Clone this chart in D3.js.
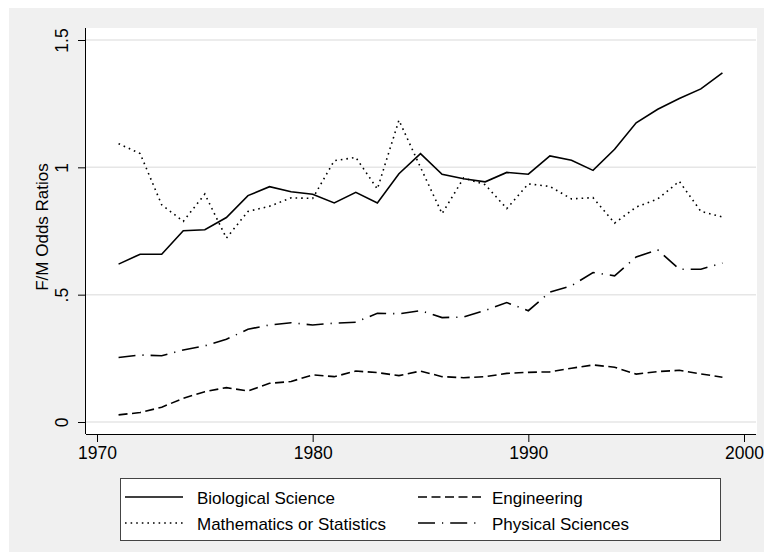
<!DOCTYPE html>
<html>
<head>
<meta charset="utf-8">
<script src="https://cdn.jsdelivr.net/npm/d3@7"></script>
<style>
  body { margin: 0; background: #fff; }
  text { font-family: "Liberation Sans", Arial, Helvetica, sans-serif; fill: #000; }
</style>
</head>
<body>
<script>
const width = 764
const height = 560

// data
const years = d3.range(1971, 2000);
const biological = [0.620, 0.659, 0.659, 0.751, 0.755, 0.803, 0.889, 0.924, 0.904, 0.894,
    0.860, 0.902, 0.860, 0.975, 1.054, 0.973, 0.955, 0.943, 0.980, 0.973,
    1.045, 1.028, 0.988, 1.071, 1.175, 1.228, 1.270, 1.308, 1.371];
const engineering = [0.028, 0.037, 0.058, 0.093, 0.119, 0.135, 0.122, 0.152, 0.159, 0.185,
    0.178, 0.200, 0.194, 0.182, 0.200, 0.178, 0.174, 0.178, 0.191, 0.195,
    0.197, 0.211, 0.224, 0.215, 0.188, 0.198, 0.203, 0.189, 0.176];
const maths = [1.093, 1.054, 0.853, 0.788, 0.895, 0.722, 0.827, 0.847, 0.880, 0.878,
    1.026, 1.039, 0.915, 1.185, 1.000, 0.818, 0.958, 0.932, 0.838, 0.935,
    0.925, 0.876, 0.881, 0.781, 0.844, 0.876, 0.945, 0.827, 0.805];
const physical = [0.253, 0.263, 0.260, 0.283, 0.299, 0.325, 0.364, 0.381, 0.390, 0.381,
    0.388, 0.392, 0.427, 0.425, 0.437, 0.410, 0.412, 0.438, 0.469, 0.437,
    0.510, 0.535, 0.587, 0.574, 0.648, 0.676, 0.600, 0.600, 0.624];

const xTicks = [1970, 1980, 1990, 2000];
const yTicks = [0, 0.5, 1, 1.5];
const yTickLabels = ["0", ".5", "1", "1.5"];

const series = [
    {name: "Biological Science", values: biological, dash: null},
    {name: "Engineering", values: engineering, dash: "9,4.5"},
    {name: "Mathematics or Statistics", values: maths, dash: "1.6,4"},
    {name: "Physical Sciences", values: physical, dash: "17,7,1.2,7"}
];

const svg = d3.select("body").append("svg")
    .attr("width", width)
    .attr("height", height);

// outer gray background + white plot region
svg.append("rect").attr("x", 9).attr("y", 8).attr("width", width - 9).attr("height", 544)
    .attr("fill", "#f0f0f0");
svg.append("rect").attr("x", 86).attr("y", 28).attr("width", 671).attr("height", 406)
    .attr("fill", "#fff");

const x = d3.scaleLinear().domain([1970, 2000]).range([97, 744]);
const y = d3.scaleLinear().domain([0, 1.5]).range([422, 40]);

// gridlines
svg.append("g").selectAll("line")
    .data(yTicks)
    .enter().append("line")
    .attr("x1", 86).attr("x2", 756)
    .attr("y1", d => y(d)).attr("y2", d => y(d))
    .attr("stroke", "#e6e6e6")
    .attr("stroke-width", 1.5);

// axes
const xAxis = svg.append("g")
    .attr("transform", "translate(0,434)")
    .call(d3.axisBottom(x).tickValues(xTicks).tickFormat(d3.format("d"))
        .tickSize(8).tickPadding(5).tickSizeOuter(0));
xAxis.select(".domain").attr("d", "M86,0.5H756").attr("stroke", "#000");
xAxis.selectAll("text").style("font-size", "17.5px").attr("fill", "#000");
xAxis.selectAll("line").attr("stroke", "#000");

const yAxis = svg.append("g")
    .attr("transform", "translate(86,0)")
    .call(d3.axisLeft(y).tickValues(yTicks).tickSize(8).tickSizeOuter(0)
        .tickFormat((d, i) => yTickLabels[i]));
yAxis.select(".domain").attr("d", "M-0.5,28V434").attr("stroke", "#000");
yAxis.selectAll("line").attr("stroke", "#000");
yAxis.selectAll("text")
    .style("font-size", "17.5px")
    .attr("fill", "#000")
    .attr("x", null).attr("dy", null)
    .attr("text-anchor", "middle")
    .attr("transform", "translate(-18,0) rotate(-90)");

// y title
svg.append("text")
    .attr("transform", "translate(48,227) rotate(-90)")
    .attr("text-anchor", "middle")
    .style("font-size", "17px")
    .text("F/M Odds Ratios");

// lines
const line = d3.line()
    .x((d, i) => x(years[i]))
    .y(d => y(d));

svg.append("g").selectAll("path")
    .data(series)
    .enter().append("path")
    .attr("d", s => line(s.values))
    .attr("fill", "none")
    .attr("stroke", "#000")
    .attr("stroke-width", 1.6)
    .attr("stroke-dasharray", s => s.dash);

// legend
const legend = svg.append("g");
legend.append("rect")
    .attr("x", 120.5).attr("y", 478.5).attr("width", 600).attr("height", 62)
    .attr("fill", "#fff").attr("stroke", "#444").attr("stroke-width", 1);

const legendPos = [
    {x0: 125, x1: 183, tx: 197, y: 497},
    {x0: 418, x1: 482, tx: 492, y: 497},
    {x0: 125, x1: 183, tx: 197, y: 523},
    {x0: 418, x1: 482, tx: 492, y: 523}
];

series.forEach((s, i) => {
    const p = legendPos[i];
    legend.append("line")
        .attr("x1", p.x0).attr("x2", p.x1)
        .attr("y1", p.y).attr("y2", p.y)
        .attr("stroke", "#000").attr("stroke-width", 1.6)
        .attr("stroke-dasharray", s.dash);
    legend.append("text")
        .attr("x", p.tx).attr("y", p.y + 6.5)
        .style("font-size", "17px")
        .text(s.name);
});
</script>
</body>
</html>
